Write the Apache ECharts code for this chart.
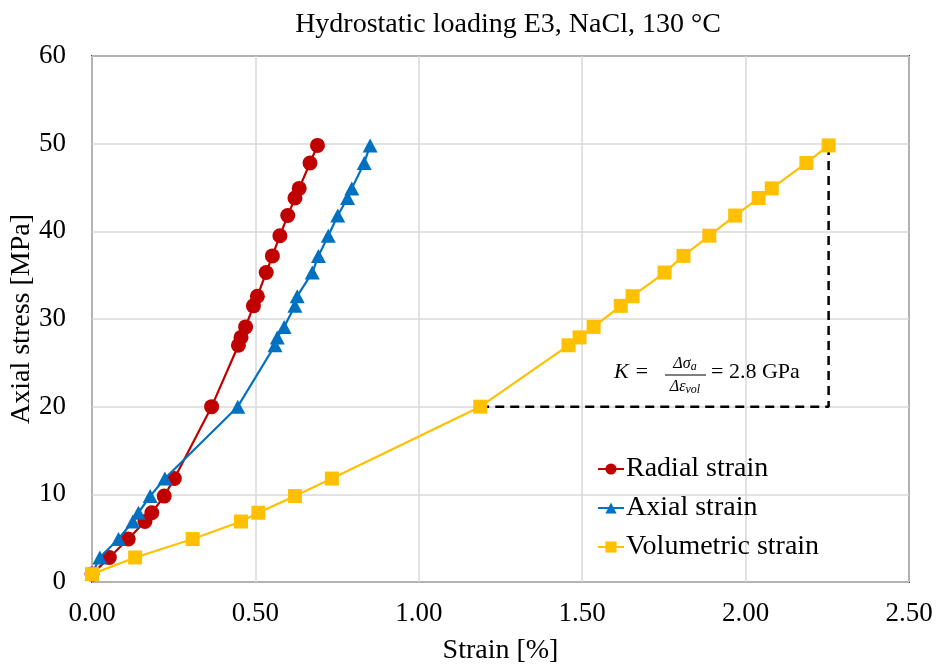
<!DOCTYPE html>
<html>
<head>
<meta charset="utf-8">
<script src="https://cdn.jsdelivr.net/npm/echarts@6/dist/echarts.min.js"></script>
<style>
  html, body { margin: 0; padding: 0; background: #fff; }
  #chart { width: 938px; height: 668px; }
</style>
</head>
<body>
<div id="chart"></div>
<script>
// Stress levels of the hydrostatic loading steps [MPa]
const stress = [0.9, 2.8, 4.9, 6.9, 7.9, 9.8, 11.8, 20.0, 27.0, 27.9, 29.1, 31.5, 32.6, 35.3, 37.2, 39.5, 41.8, 43.8, 44.9, 47.8, 49.8];
// Measured strains at each step [%]
const radialStrain = [0.0, 0.053, 0.111, 0.162, 0.183, 0.221, 0.252, 0.366, 0.448, 0.456, 0.470, 0.494, 0.506, 0.533, 0.552, 0.575, 0.599, 0.621, 0.634, 0.667, 0.690];
const axialStrain = [0.0, 0.024, 0.081, 0.125, 0.142, 0.178, 0.223, 0.446, 0.560, 0.567, 0.588, 0.621, 0.628, 0.674, 0.693, 0.723, 0.752, 0.782, 0.795, 0.833, 0.851];
const volumetricStrain = [0.0, 0.132, 0.308, 0.456, 0.509, 0.621, 0.734, 1.188, 1.458, 1.492, 1.535, 1.618, 1.654, 1.752, 1.810, 1.889, 1.968, 2.040, 2.080, 2.186, 2.254];

const seriesNames = ['Radial strain', 'Axial strain', 'Volumetric strain'];
const xTicks = [0, 0.5, 1.0, 1.5, 2.0, 2.5];
const yTicks = [0, 10, 20, 30, 40, 50, 60];

// Steps used for the bulk modulus slope triangle
const slopeFrom = 7;
const slopeTo = stress.length - 1;

const FONT = '"Liberation Serif", "Times New Roman", serif';

function pairs(xs) {
  return xs.map((x, i) => [x, stress[i]]);
}

const slopeGuide = [
  [volumetricStrain[slopeFrom], stress[slopeFrom]],
  [volumetricStrain[slopeTo], stress[slopeFrom]],
  [volumetricStrain[slopeTo], stress[slopeTo]]
];

const chart = echarts.init(document.getElementById('chart'), null, { renderer: 'canvas' });

const option = {
  backgroundColor: '#ffffff',
  animation: false,
  title: {
    text: 'Hydrostatic loading E3, NaCl, 130 °C',
    left: 503,
    textAlign: 'center',
    top: 6,
    textStyle: { fontFamily: FONT, fontSize: 28, fontWeight: 'normal', color: '#000' }
  },
  grid: {
    left: 92, right: 29, top: 56, bottom: 86,
    outerBoundsMode: 'none',
    containLabel: false,
    show: true, borderColor: '#404040', borderWidth: 2, backgroundColor: 'transparent'
  },
  legend: {
    orient: 'vertical',
    left: 597,
    top: 455,
    padding: 0,
    itemWidth: 26,
    itemHeight: 14,
    itemGap: 11,
    data: seriesNames,
    textStyle: { fontFamily: FONT, fontSize: 28, color: '#000', padding: [0, 0, 0, -3] }
  },
  xAxis: {
    type: 'value',
    min: xTicks[0],
    max: xTicks[xTicks.length - 1],
    interval: xTicks[1] - xTicks[0],
    name: 'Strain [%]',
    nameLocation: 'middle',
    nameGap: 55,
    nameMoveOverlap: false,
    nameTextStyle: { fontFamily: FONT, fontSize: 28, color: '#000' },
    axisLine: { show: false },
    axisTick: { show: false },
    axisLabel: {
      margin: 18,
      fontFamily: FONT, fontSize: 27, color: '#000',
      formatter: v => v.toFixed(2)
    },
    splitLine: { show: true, lineStyle: { color: '#d9d9d9', width: 1.5 } }
  },
  yAxis: {
    type: 'value',
    min: yTicks[0],
    max: yTicks[yTicks.length - 1],
    interval: yTicks[1] - yTicks[0],
    name: 'Axial stress [MPa]',
    nameLocation: 'middle',
    nameGap: 56,
    nameMoveOverlap: false,
    nameTextStyle: { fontFamily: FONT, fontSize: 28, color: '#000' },
    axisLine: { show: false },
    axisTick: { show: false },
    axisLabel: { margin: 26, fontFamily: FONT, fontSize: 27, color: '#000' },
    splitLine: { show: true, lineStyle: { color: '#d9d9d9', width: 1.5 } }
  },
  series: [
    {
      name: 'slope',
      type: 'line',
      data: slopeGuide,
      symbol: 'none',
      silent: true,
      z: 1,
      lineStyle: { color: '#000', width: 2.5, type: [9, 6] }
    },
    {
      name: seriesNames[0],
      type: 'line',
      data: pairs(radialStrain),
      symbol: 'circle',
      symbolSize: 15,
      z: 2,
      itemStyle: { color: '#C00000' },
      lineStyle: { color: '#C00000', width: 2.2 }
    },
    {
      name: seriesNames[1],
      type: 'line',
      data: pairs(axialStrain),
      symbol: 'triangle',
      symbolSize: [15, 14],
      z: 3,
      itemStyle: { color: '#0070C0' },
      lineStyle: { color: '#0070C0', width: 2.2 }
    },
    {
      name: seriesNames[2],
      type: 'line',
      data: pairs(volumetricStrain),
      symbol: 'rect',
      symbolSize: 14,
      z: 4,
      itemStyle: { color: '#FFC000' },
      lineStyle: { color: '#FFC000', width: 2.2 }
    }
  ],
  graphic: [
    {
      type: 'group',
      left: 614,
      top: 356,
      children: [
        {
          type: 'text', x: 0, y: 17,
          style: { text: 'K =', font: 'italic 22px ' + FONT, fill: '#000', verticalAlign: 'middle' }
        },
        {
          type: 'text', x: 71, y: 9,
          style: {
            text: '{m|Δσ}{s|a}',
            align: 'center', verticalAlign: 'middle',
            rich: {
              m: { fontFamily: FONT, fontStyle: 'italic', fontSize: 16, color: '#000' },
              s: { fontFamily: FONT, fontStyle: 'italic', fontSize: 12, color: '#000', padding: [6, 0, 0, 0] }
            }
          }
        },
        {
          type: 'line',
          shape: { x1: 51, y1: 20, x2: 92, y2: 20 },
          style: { stroke: '#000', lineWidth: 1 }
        },
        {
          type: 'text', x: 71, y: 32,
          style: {
            text: '{m|Δε}{s|vol}',
            align: 'center', verticalAlign: 'middle',
            rich: {
              m: { fontFamily: FONT, fontStyle: 'italic', fontSize: 16, color: '#000' },
              s: { fontFamily: FONT, fontStyle: 'italic', fontSize: 12, color: '#000', padding: [6, 0, 0, 0] }
            }
          }
        },
        {
          type: 'text', x: 97, y: 17,
          style: { text: '= 2.8 GPa', font: '22px ' + FONT, fill: '#000', verticalAlign: 'middle' }
        }
      ]
    }
  ]
};

chart.setOption(option);
</script>
</body>
</html>
